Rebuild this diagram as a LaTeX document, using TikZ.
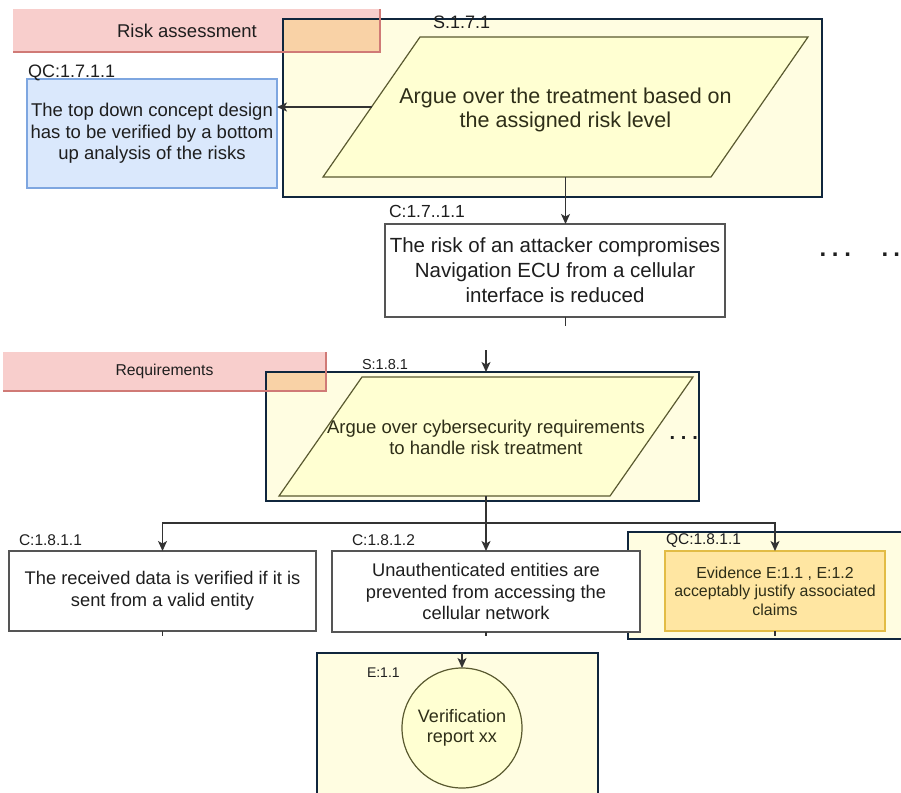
\documentclass[tikz,border=0pt]{standalone}
\usepackage{fontspec}
\setmainfont{Liberation Sans}
\usetikzlibrary{arrows.meta}

\definecolor{frameline}{HTML}{10263D}
\definecolor{framefill}{HTML}{FFFDE1}
\definecolor{parafill}{HTML}{FFFFD2}
\definecolor{paraline}{HTML}{5A5A30}
\definecolor{pinkfill}{HTML}{F8CECC}
\definecolor{pinkline}{HTML}{D07A76}
\definecolor{peach}{HTML}{F9D2A6}
\definecolor{bluefill}{HTML}{DAE8FC}
\definecolor{blueline}{HTML}{7EA6E0}
\definecolor{evfill}{HTML}{FFE6A2}
\definecolor{evline}{HTML}{E2BC45}
\definecolor{boxline}{HTML}{555555}
\definecolor{wirecol}{HTML}{333333}
\definecolor{ink}{HTML}{1E1E1E}
\definecolor{oliveink}{HTML}{2E2E18}

\newcommand\fs[2]{\fontsize{#1}{#2}\selectfont}
\newcommand\dotrow[1]{.\hspace{#1}.\hspace{#1}.}

\begin{document}
\begin{tikzpicture}[x=1pt,y=-1pt,
  every node/.style={inner sep=0pt, outer sep=0pt},
  frame/.style={rectangle, draw=frameline, line width=2.4pt, fill=framefill},
  band/.style={rectangle, fill=pinkfill, text=ink},
  parashape/.style={draw=paraline, fill=parafill, line width=1.2pt, line join=miter},
  paratext/.style={align=center, text=oliveink},
  claim/.style={rectangle, draw=boxline, line width=1.4pt, fill=white, align=center, text=ink},
  ctx/.style={rectangle, draw=blueline, line width=1.3pt, fill=bluefill, align=center, text=ink},
  evid/.style={rectangle, draw=evline, line width=1.4pt, fill=evfill, align=center, text=oliveink},
  tag/.style={anchor=base west, text=ink},
  wire/.style={draw=wirecol, line width=1.3pt},
  arrow/.style={wire, -{Stealth[length=10pt,width=9pt,inset=2.5pt]}},
]
\useasboundingbox (0,0) rectangle (901,792);

% ---- grouping frames ----
\node[frame, minimum width=539pt, minimum height=178pt] (f171) at (552.5,108) {};
\node[frame, minimum width=433pt, minimum height=129pt] (f181) at (482.5,436.5) {};
\node[frame, minimum width=287pt, minimum height=107pt] (fqc) at (771.5,585.5) {};
\node[frame, minimum width=281pt, minimum height=167pt] (fe11) at (457.5,736.5) {};

% ---- section bands ----
\node[band, minimum width=367pt, minimum height=43pt, font=\fs{18.5}{22}] (band1) at (196.5,30.5) {Risk assessment\hspace*{19pt}};
\node[band, minimum width=323pt, minimum height=39pt, font=\fs{15.7}{19}] (band2) at (164.5,371.5) {Requirements};
\fill[peach] (f171.north west) rectangle (band1.south east);
\fill[peach] (f181.north west) rectangle (band2.south east);
\draw[frameline, line width=2.4pt] (f171.north west) rectangle (f171.south east);
\draw[frameline, line width=2.4pt] (f181.north west) rectangle (f181.south east);
\draw[pinkline, line width=1.3pt] (band1.south west) -- (band1.south east) -- (band1.north east);
\draw[pinkline, line width=1.3pt] (band2.south west) -- (band2.south east) -- (band2.north east);

% ---- strategies (parallelograms inside their bounding nodes) ----
\path node[minimum width=485pt, minimum height=140pt] (s171) at (565.5,107) {};
\draw[parashape] ([xshift=97pt]s171.north west) -- (s171.north east)
  -- ([xshift=-97pt]s171.south east) -- (s171.south west) -- cycle;
\node[paratext, font=\fs{21.5}{24.5}] (s171t) at ([yshift=-3pt]s171.center)
  {Argue over the treatment based on\\the assigned risk level};
\coordinate (s171l) at ([xshift=48.5pt]s171.west);

\path node[minimum width=414pt, minimum height=119pt] (s181) at (486,436.5) {};
\draw[parashape] ([xshift=83pt]s181.north west) -- (s181.north east)
  -- ([xshift=-83pt]s181.south east) -- (s181.south west) -- cycle;
\node[paratext, font=\fs{18.5}{21.7}] (s181t) at ([yshift=-1pt]s181.center)
  {Argue over cybersecurity requirements\\to handle risk treatment};

% ---- context, claims, evidence ----
\node[ctx, minimum width=250pt, minimum height=109pt, font=\fs{18.5}{21.7}] (qc171) at (152,133.5)
  {The top down concept design\\has to be verified by a bottom\\up analysis of the risks};
\node[claim, minimum width=340pt, minimum height=93pt, font=\fs{20.5}{25}] (c1711) at (555,270.5)
  {The risk of an attacker compromises\\Navigation ECU from a cellular\\interface is reduced};
\node[claim, minimum width=307pt, minimum height=80pt, font=\fs{18.3}{21.7}] (c1811) at (162.5,591)
  {The received data is verified if it is\\sent from a valid entity};
\node[claim, minimum width=308pt, minimum height=81pt, font=\fs{18.3}{21.2}] (c1812) at (486,591.5)
  {Unauthenticated entities are\\prevented from accessing the\\cellular network};
\node[evid, minimum width=220pt, minimum height=80pt, font=\fs{15.9}{18.5}] (ev) at (775,591)
  {Evidence E:1.1 , E:1.2\\acceptably justify associated\\claims};
\node[circle, draw=paraline, line width=1.2pt, fill=parafill, minimum size=120pt,
  align=center, text=oliveink, font=\fs{18}{20}] (e11) at (462,728)
  {Verification\\report xx};

% ---- connectors ----
\draw[arrow] (s171l) -- (s171l -| qc171.east);
\draw[arrow] (s171.south) -- (s171.south |- c1711.north);
\draw[wire] (s171.south |- c1711.south) -- ++(0,9);
\coordinate (into181) at (486,350);
\draw[arrow] (into181) -- (into181 |- f181.north);
\coordinate (bus) at (0,523);
\draw[arrow] (s181.south) -- (s181.south |- bus) -| (c1811.north);
\draw[arrow] (s181.south |- bus) -- (c1812.north);
\draw[arrow] (s181.south |- bus) -| (ev.north);
\draw[wire] (c1811.south) -- ++(0,5);
\draw[wire] (c1812.south) -- ++(0,4);
\draw[wire] (ev.south) -- ++(0,5);
\draw[arrow] (e11.north |- fe11.north) -- (e11.north);

% ---- identifiers ----
\node[tag, font=\fs{18}{20}] (t171) at (433,29) {S.1.7.1};
\node[tag, font=\fs{18}{20}] (tqc171) at (28,77.5) {QC:1.7.1.1};
\node[tag, font=\fs{17.5}{20}] (tc1711) at (389,217) {C:1.7..1.1};
\node[tag, font=\fs{14.5}{17}] (t181) at (362,369) {S:1.8.1};
\node[tag, font=\fs{15.5}{18}] (tc1811) at (19,545) {C:1.8.1.1};
\node[tag, font=\fs{15.5}{18}] (tc1812) at (352,545) {C:1.8.1.2};
\node[tag, font=\fs{15.5}{18}] (tqc1811) at (666,544) {QC:1.8.1.1};
\node[tag, font=\fs{14}{16}] (te11) at (367,677) {E:1.1};

% ---- continuation marks ----
\node[tag, font=\bfseries\fs{24}{26}] (more1) at (819.5,256) {\dotrow{5.8pt}};
\node[tag, font=\bfseries\fs{24}{26}] (more2) at (881.5,256) {.\hspace{5.3pt}.};
\node[tag, font=\bfseries\fs{20}{22}] (more3) at (669.5,439) {\dotrow{5.9pt}};
\end{tikzpicture}
\end{document}
